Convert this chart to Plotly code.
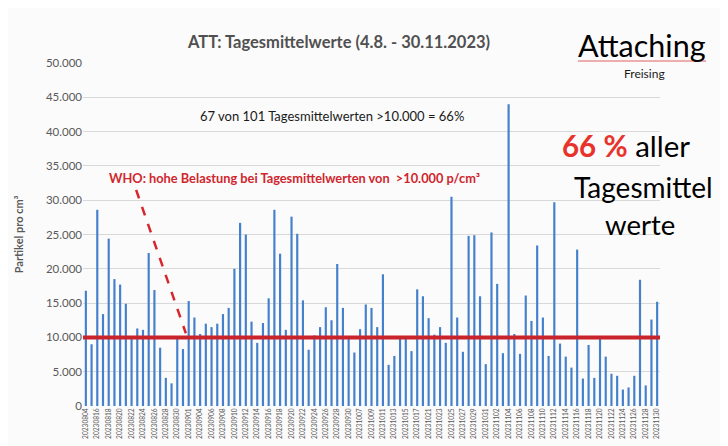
import plotly.graph_objects as go

# ---- data -------------------------------------------------------------
dates_aug = ["20230804", "20230815", "20230816", "20230817", "20230818", "20230819",
             "20230820", "20230821", "20230822", "20230823", "20230824", "20230825",
             "20230826", "20230827", "20230828", "20230829", "20230830", "20230831"]
dates_sep = ["20230901", "20230903", "20230904", "20230905", "20230906", "20230907",
             "20230908", "20230909", "20230910", "20230911", "20230912", "20230913",
             "20230914", "20230915", "20230916", "20230917", "20230918", "20230919",
             "20230920", "20230921", "20230922", "20230923", "20230924", "20230925",
             "20230926", "20230927", "20230928", "20230929", "20230930"]
dates_oct = ["20231006", "20231007", "20231008", "20231009", "20231010", "20231011",
             "20231012", "20231013", "20231014", "20231015", "20231016", "20231017",
             "20231020", "20231021", "20231022", "20231023", "20231024", "20231025",
             "20231026", "20231027", "20231028", "20231029", "20231030", "20231031"]
dates_nov = ["20231101", "20231102", "20231103", "20231104", "20231105", "20231106",
             "20231107", "20231108", "20231109", "20231110", "20231111", "20231112",
             "20231113", "20231114", "20231115", "20231116", "20231117", "20231118",
             "20231119", "20231120", "20231121", "20231122", "20231123", "20231124",
             "20231125", "20231126", "20231127", "20231128", "20231129", "20231130"]
dates = dates_aug + dates_sep + dates_oct + dates_nov

particles = [16800, 9000, 28600, 13400, 24400, 18500, 17700, 14900, 9800, 11300,
             11100, 22300, 16900, 8500, 4100, 3300, 9800, 8300, 15300, 12900,
             10500, 12000, 11500, 12000, 13400, 14300, 20000, 26700, 25000, 12300,
             9200, 12100, 15700, 28600, 22200, 11100, 27600, 25100, 15400, 8200,
             10300, 11500, 14400, 12500, 20700, 14300, 9800, 7800, 11200, 14800,
             14300, 11500, 19200, 6000, 7300, 9800, 9900, 8000, 17000, 16000,
             12800, 10400, 11500, 9200, 30500, 12900, 7900, 24800, 24900, 16000,
             6100, 25300, 17800, 7700, 44000, 10500, 7600, 16100, 12400, 23400,
             12900, 7300, 29700, 9100, 7200, 5600, 22800, 4000, 8900, 4100,
             9900, 7200, 4700, 4400, 2400, 2700, 4400, 18400, 3000, 12600, 15200]

threshold = 10000
y_ticks = [0, 5000, 10000, 15000, 20000, 25000, 30000, 35000, 40000, 45000, 50000]

title_text = "ATT: Tagesmittelwerte (4.8. - 30.11.2023)"
count_text = "67 von 101 Tagesmittelwerten >10.000 = 66%"
who_text = "WHO: hohe Belastung bei Tagesmittelwerten von  >10.000 p/cm³"

# ---- layout geometry (page pixels; page body has an 8px margin) --------
OFF = 8
W, H = 728 - 2 * OFF, 446 - OFF
PL, PT, PR, PB = 83, 63, 660, 406          # plot area on the page
ML, MT = PL - OFF, PT - OFF
MR, MB = W - (PR - OFF), H - (PB - OFF)
PW, PH = PR - PL, PB - PT


def px(x):
    return (x - PL) / PW


def py(y):
    return 1 - (y - PT) / PH


FONT = "Lato"
GRAY = "#595959"
RED = "#c9232b"

fig = go.Figure()
fig.add_trace(go.Bar(x=dates, y=particles, marker=dict(color="#4580cc", line=dict(width=0)),
                     hoverinfo="x+y"))

# 10.000 threshold line
fig.add_shape(type="line", xref="paper", yref="y", x0=0, x1=1, y0=threshold, y1=threshold,
              line=dict(color=RED, width=4), layer="above")
# dashed pointer from WHO text
fig.add_shape(type="line", xref="x", yref="y", x0=8.8, y0=31500, x1=17.5, y1=10600,
              line=dict(color="#d9262c", width=2.5, dash="dash"), layer="above")

fig.update_layout(
    width=W, height=H,
    margin=dict(l=ML, r=MR, t=MT, b=MB),
    paper_bgcolor="#fbfbfb", plot_bgcolor="#fbfbfb",
    separators=",.",
    bargap=0.62,
    showlegend=False,
    font=dict(family=FONT, color=GRAY),
    xaxis=dict(type="category", categoryorder="array", categoryarray=dates,
               range=[-0.5, len(dates) - 0.5],
               tickmode="array", tickvals=dates[::2], ticktext=dates[::2],
               tickangle=-90, tickfont=dict(size=6.6, color=GRAY, family=FONT),
               showgrid=False, showline=False, ticks="", automargin=False),
    yaxis=dict(range=[0, 50000], tickmode="array", tickvals=y_ticks, tickformat=",d",
               tickfont=dict(size=11.5, color=GRAY, family=FONT),
               showgrid=True, gridcolor="#d9d9d9", gridwidth=1, zeroline=False,
               showline=False, ticks="", automargin=False,
               title=dict(text="<b>Partikel pro cm³</b>", font=dict(size=11, color=GRAY, family=FONT),
                          standoff=20)),
)


def note(text, x, y, size, color, anchor="center"):
    return dict(text=text, x=px(x), y=py(y), xref="paper", yref="paper", showarrow=False,
                font=dict(size=size, color=color, family=FONT), xanchor=anchor, yanchor="middle")


ann = [
    note("<b>" + title_text + "</b>", 338, 42, 16.5, "#505050"),
    note(count_text, 332, 116, 13, "#1a1a1a"),
    note("<b>" + who_text + "</b>", 107, 178, 12.8, "#d0262d", "left"),
    note("Attaching", 642, 45, 30.5, "#000000"),
    note("Freising", 644, 73, 12, "#1a1a1a"),
    note("<b><span style='color:#e8322c'>66 %</span></b> aller", 626, 145, 29.5, "#000000"),
    note("Tagesmittel", 643, 187, 28, "#000000"),
    note("werte", 640, 225, 27.5, "#000000"),
]
fig.update_layout(annotations=ann)

# red spell-check squiggle under "Attaching"
fig.add_shape(type="line", xref="paper", yref="paper", x0=px(578), x1=px(706),
              y0=py(61), y1=py(61), line=dict(color="#e06060", width=1))

fig.write_html("out.html")
